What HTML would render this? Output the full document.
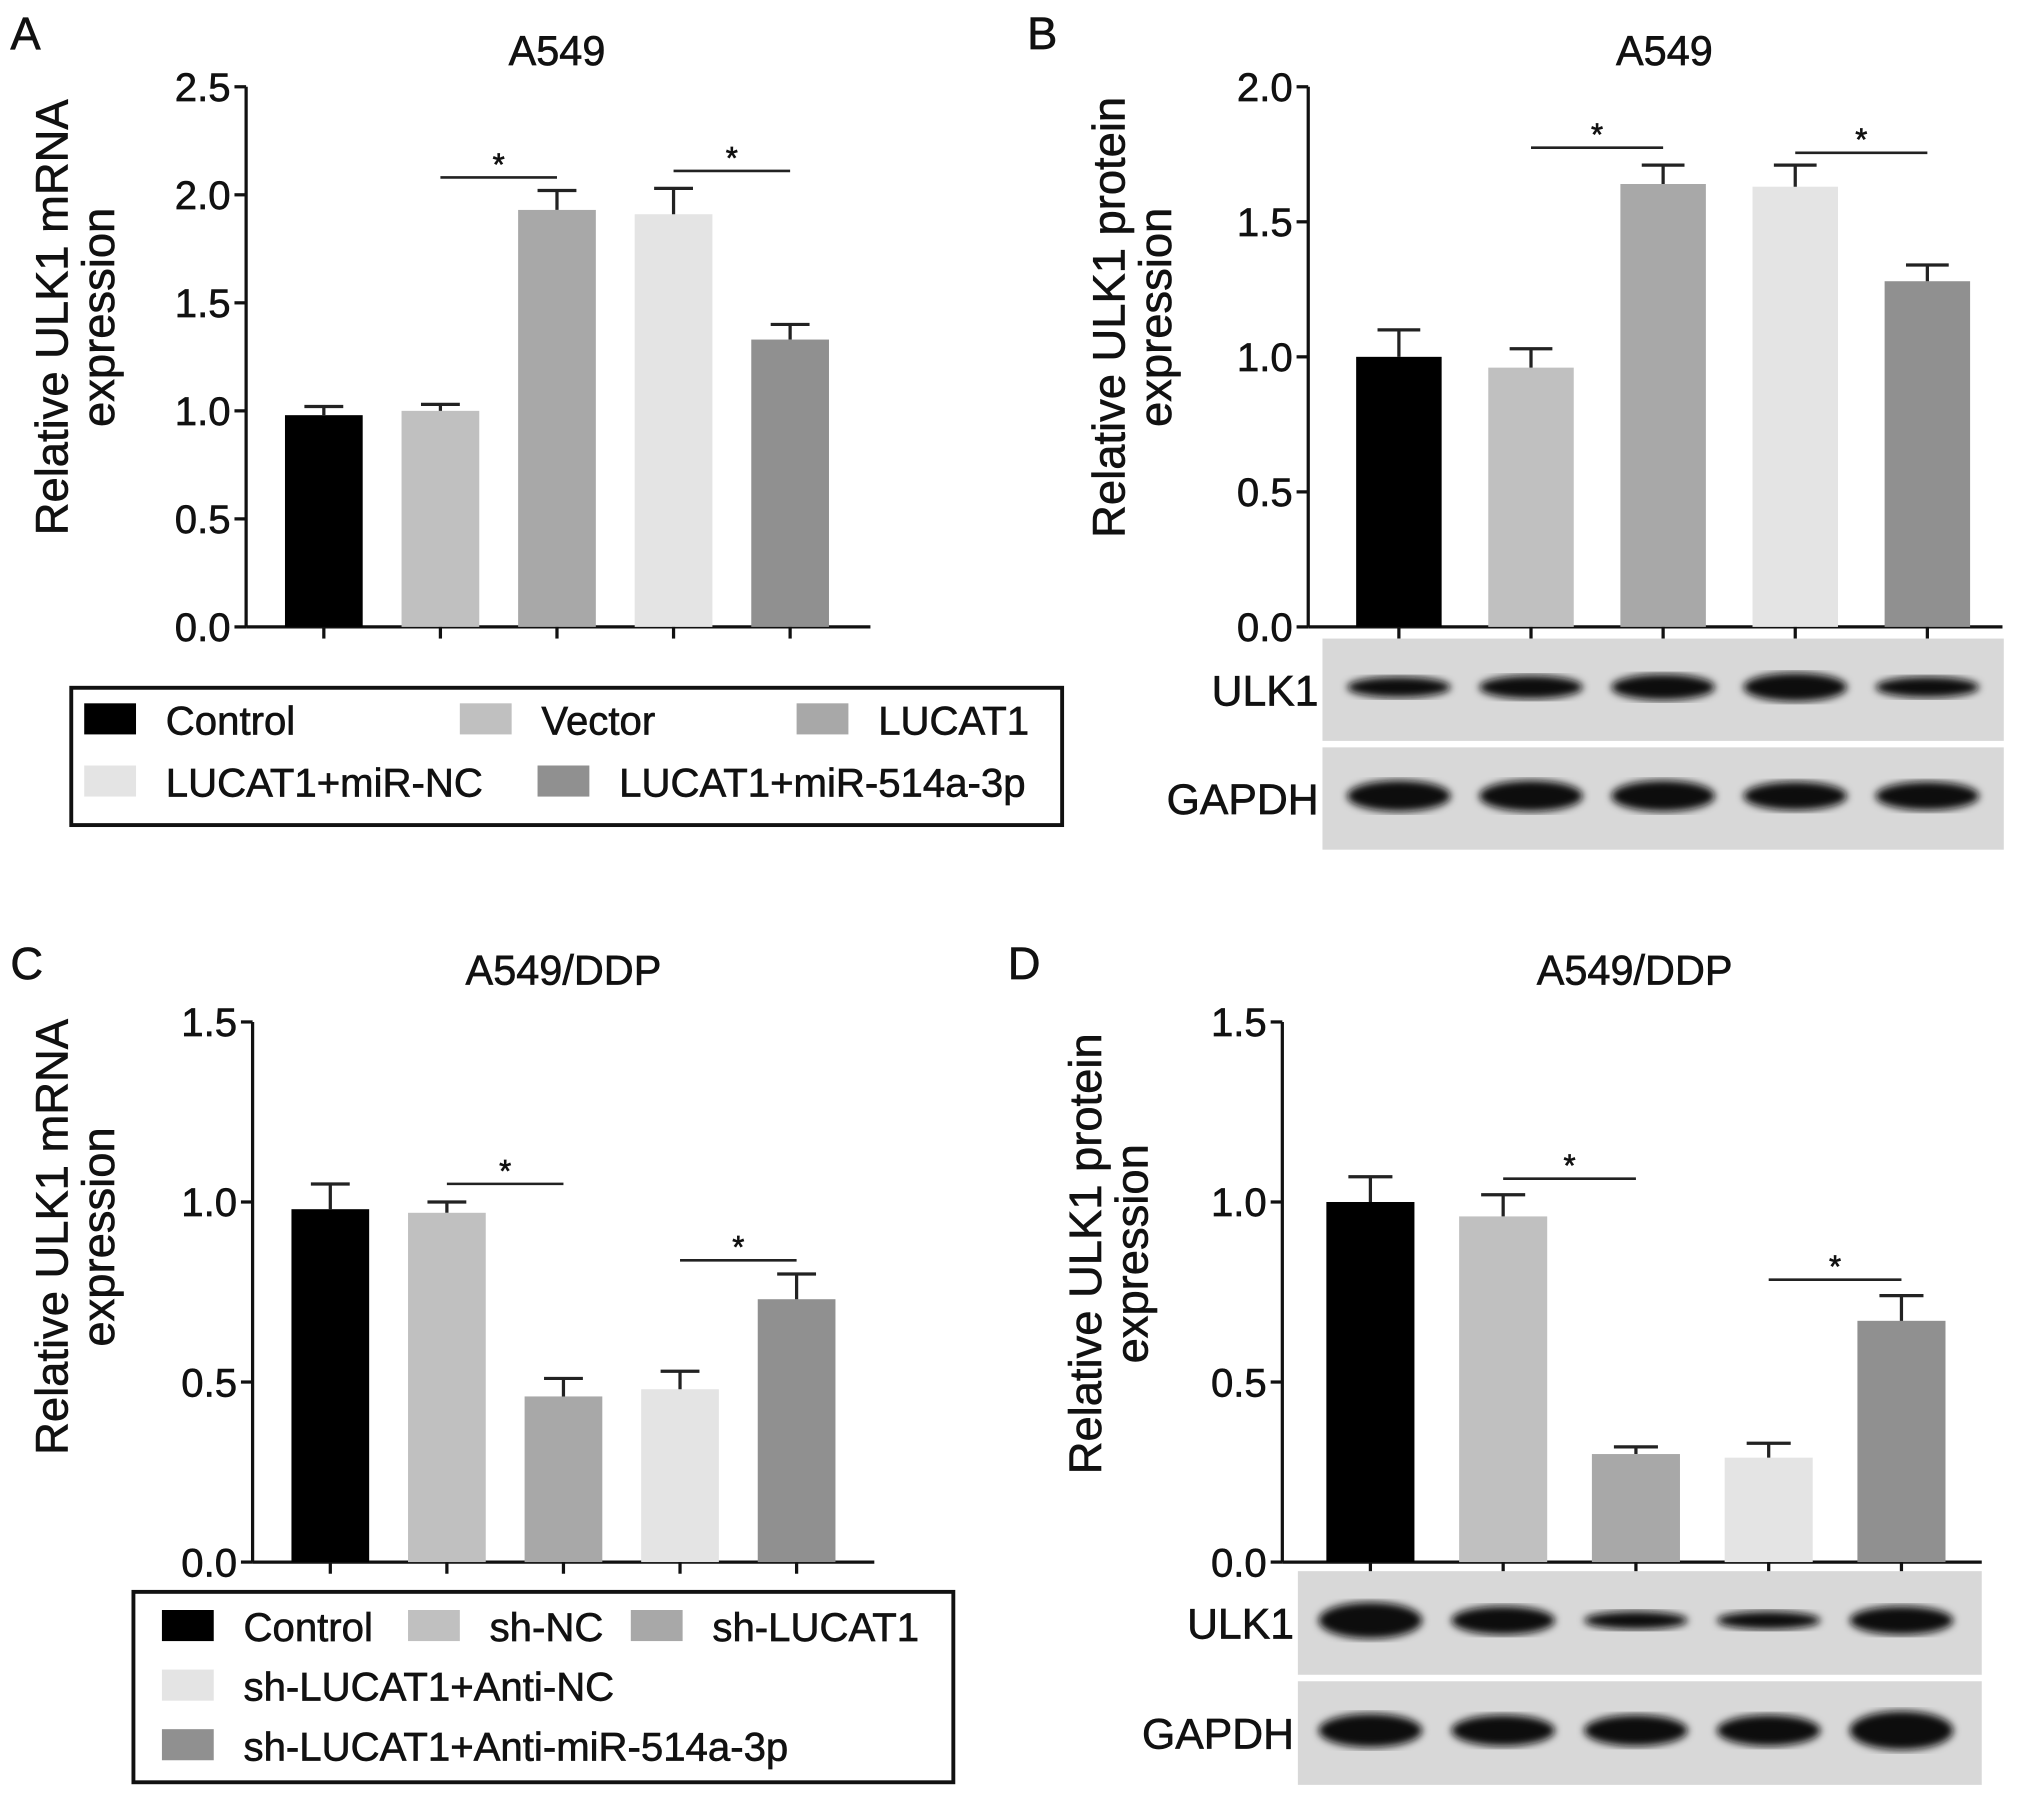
<!DOCTYPE html>
<html><head><meta charset="utf-8"><style>
html,body{margin:0;padding:0;background:#fff}
svg{display:block;font-family:"Liberation Sans",Arial,sans-serif}
text{stroke:#111;stroke-width:0.5px}
</style></head><body>
<svg id="fig" width="2031" height="1796" viewBox="0 0 1568 1386.6" xmlns="http://www.w3.org/2000/svg">
<defs><filter id="blur"><feGaussianBlur stdDeviation="3"/></filter></defs>
<g id="root"></g>
</svg>
<script>
const colors = ["#000000","#c0c0c0","#a8a8a8","#e4e4e4","#909090"];
const valsA = [0.98,1.00,1.93,1.91,1.33];
const errA  = [0.04,0.03,0.09,0.12,0.07];
const valsB = [1.00,0.96,1.64,1.63,1.28];
const errB  = [0.10,0.07,0.07,0.08,0.06];
const valsC = [0.98,0.97,0.46,0.48,0.73];
const errC  = [0.07,0.03,0.05,0.05,0.07];
const valsD = [1.00,0.96,0.30,0.29,0.67];
const errD  = [0.07,0.06,0.02,0.04,0.07];
const ticksA = ["0.0","0.5","1.0","1.5","2.0","2.5"];
const ticksB = ["0.0","0.5","1.0","1.5","2.0"];
const ticksC = ["0.0","0.5","1.0","1.5"];
const ticksD = ["0.0","0.5","1.0","1.5"];
const legendA = ["Control","Vector","LUCAT1","LUCAT1+miR-NC","LUCAT1+miR-514a-3p"];
const legendC = ["Control","sh-NC","sh-LUCAT1","sh-LUCAT1+Anti-NC","sh-LUCAT1+Anti-miR-514a-3p"];
const ulkB = [8,9,10,11,8];
const gapB = [12,12,12,11,11];
const ulkD = [14,11,7,7,11];
const gapD = [13,12,12,12,15];

const NS="http://www.w3.org/2000/svg";
const root=document.getElementById('root');
function mk(tag,attrs,parent){const e=document.createElementNS(NS,tag);for(const k in attrs)e.setAttribute(k,attrs[k]);(parent||root).appendChild(e);return e;}
function txt(s,x,y,size,anchor,parent,rot){const t=mk('text',{x:x,y:y,'font-size':size,'text-anchor':anchor||'start',fill:'#111'},parent);if(rot)t.setAttribute('transform','rotate(-90 '+x+' '+y+')');t.textContent=s;return t;}

function panel(p){
  const g=mk('g',{});
  
  
  const L=txt(p.letter,p.lx,p.ly,35,'start',g);
  
  
  const T=txt(p.title,p.tx,p.ty,32,'middle',g);
  
  
  const yl=mk('g',{},g);
  
  
  txt(p.ylab1,p.yl1,p.ylc,35,'middle',yl,true);
  txt('expression',p.yl2,p.ylc,35,'middle',yl,true);
  const y=v=>p.y0-(v/p.ymax)*(p.y0-p.ytop);
  const ax=mk('g',{},g);
  
  
  mk('line',{x1:p.ax,y1:p.ytop,x2:p.ax,y2:p.y0,stroke:'#111','stroke-width':2.5},ax);
  p.ticks.forEach((t,i)=>{const v=parseFloat(t);const yy=y(v);
    mk('line',{x1:p.ax-9,y1:yy,x2:p.ax,y2:yy,stroke:'#111','stroke-width':2.5},ax);
    const tl=txt(t,p.ax-12,yy+11,31,'end',ax);
    
    
  });
  const xa=mk('line',{x1:p.ax,y1:p.y0,x2:p.axEnd,y2:p.y0,stroke:'#111','stroke-width':2.5},g);
  
  
  p.vals.forEach((v,i)=>{
    const cx=p.c0+i*p.dx, w=p.bw;
    const b=mk('rect',{x:cx-w/2,y:y(v),width:w,height:p.y0-y(v),fill:colors[i]},g);
    
    
    const e=mk('path',{d:'M'+cx+' '+y(v)+'V'+y(v+p.err[i])+'M'+(cx-w/4)+' '+y(v+p.err[i])+'H'+(cx+w/4),stroke:'#222','stroke-width':2.5,fill:'none'},g);
    
    
    mk('line',{x1:cx,y1:p.y0,x2:cx,y2:p.y0+9,stroke:'#111','stroke-width':2.5},g);
  });
  p.sig.forEach(s=>{
    const sg=mk('g',{},g);
    
    
    const x1=p.c0+s[0]*p.dx, x2=p.c0+s[1]*p.dx;
    mk('line',{x1:x1,y1:s[2],x2:x2,y2:s[2],stroke:'#222','stroke-width':2},sg);
    txt('*',(x1+x2)/2,s[2]-2,24,'middle',sg);
  });
  return g;
}
function blots(p,g){
  [[p.b1,p.ulk,'ULK1'],[p.b2,p.gap,'GAPDH']].forEach(([yy,arr,lab])=>{
    const bg=mk('g',{},g);
    
    
    mk('rect',{x:p.bx,y:yy,width:p.bwid,height:p.bh,fill:'#d8d8d8'},bg);
    arr.forEach((r,i)=>{const cx=p.c0+i*p.dx;
      mk('ellipse',{cx:cx,cy:yy+p.bh/2-2,rx:p.rx,ry:r,fill:'#111',filter:'url(#blur)'},bg);});
    txt(lab,p.bx-3,yy+p.bh/2+12,33,'end',bg);
  });
}
function legend(x,y,w,h,items,parent){
  const g=mk('g',{});
  
  
  mk('rect',{x:x,y:y,width:w,height:h,fill:'none',stroke:'#111','stroke-width':3},g);
  items.forEach(it=>{
    const e=mk('g',{},g);
    
    
    mk('rect',{x:it[0],y:it[1]-13,width:40,height:24,fill:colors[it[3]]},e);
    txt(it[2],it[0]+63,it[1]+11,31,'start',e);
  });
}
panel({name:'panel-a',letter:'A',lx:8,ly:38,title:'A549',tx:430,ty:50,ylab1:'Relative ULK1 mRNA',yl1:52,yl2:88,ylc:245,
  ax:190,axEnd:672,ytop:67,y0:484,ymax:2.5,ticks:ticksA,vals:valsA,err:errA,c0:250,dx:90,bw:60,sig:[[1,2,137],[3,4,132]]});
legend(55,531,765,106,[[65,556,legendA[0],0],[355,556,legendA[1],1],[615,556,legendA[2],2],[65,604,legendA[3],3],[415,604,legendA[4],4]]);
const pB={name:'panel-b',letter:'B',lx:793,ly:38,title:'A549',tx:1285,ty:50,ylab1:'Relative ULK1 protein',yl1:868,yl2:904,ylc:245,
  ax:1010,axEnd:1546,ytop:67,y0:484,ymax:2.0,ticks:ticksB,vals:valsB,err:errB,c0:1080,dx:102,bw:66,sig:[[1,2,114],[3,4,118]],
  b1:493,b2:577,bh:79,bx:1021,bwid:526,rx:40,ulk:ulkB,gap:gapB};
blots(pB,panel(pB));
panel({name:'panel-c',letter:'C',lx:8,ly:756,title:'A549/DDP',tx:435,ty:760,ylab1:'Relative ULK1 mRNA',yl1:52,yl2:88,ylc:955,
  ax:195,axEnd:675,ytop:789,y0:1206,ymax:1.5,ticks:ticksC,vals:valsC,err:errC,c0:255,dx:90,bw:60,sig:[[1,2,914],[3,4,973]]});
legend(103,1229,633,147,[[125,1256,legendC[0],0],[315,1256,legendC[1],1],[487,1256,legendC[2],2],[125,1302,legendC[3],3],[125,1348,legendC[4],4]]);
const pD={name:'panel-d',letter:'D',lx:778,ly:756,title:'A549/DDP',tx:1262,ty:760,ylab1:'Relative ULK1 protein',yl1:850,yl2:886,ylc:968,
  ax:990,axEnd:1530,ytop:789,y0:1206,ymax:1.5,ticks:ticksD,vals:valsD,err:errD,c0:1058,dx:102.5,bw:68,sig:[[1,2,910],[3,4,988]],
  b1:1213,b2:1298,bh:80,bx:1002,bwid:528,rx:40,ulk:ulkD,gap:gapD};
blots(pD,panel(pD));
</script>
</body></html>
